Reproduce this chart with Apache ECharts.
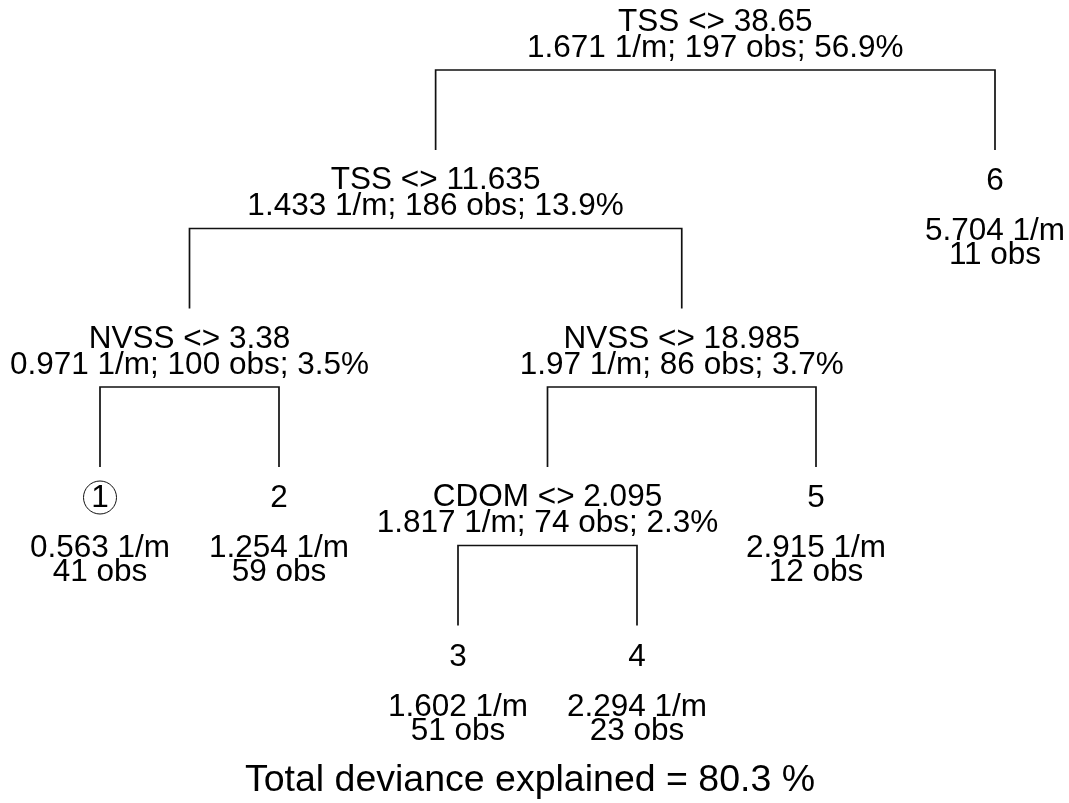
<!DOCTYPE html>
<html>
<head>
<meta charset="utf-8">
<script src="https://cdn.jsdelivr.net/npm/echarts@6/dist/echarts.min.js"></script>
<style>
  html, body { margin: 0; padding: 0; background: #fff; }
  #chart { width: 1069px; height: 803px; }
</style>
</head>
<body>
<div id="chart"></div>
<script>
// Regression tree: split nodes
const splitIds    = ['s0', 's1', 's2', 's3', 's4'];
const splitRules  = ['TSS <> 38.65', 'TSS <> 11.635', 'NVSS <> 3.38', 'NVSS <> 18.985', 'CDOM <> 2.095'];
const splitMeans  = ['1.671', '1.433', '0.971', '1.97', '1.817'];
const splitObs    = [197, 186, 100, 86, 74];
const splitPct    = [56.9, 13.9, 3.5, 3.7, 2.3];
const splitKids   = [['s1', 'l6'], ['s2', 's3'], ['l1', 'l2'], ['s4', 'l5'], ['l3', 'l4']];

// Terminal nodes (leaves), in left-to-right order
const leafIds     = ['l1', 'l2', 'l3', 'l4', 'l5', 'l6'];
const leafNumbers = ['1', '2', '3', '4', '5', '6'];
const leafMeans   = ['0.563', '1.254', '1.602', '2.294', '2.915', '5.704'];
const leafObs     = [41, 59, 51, 23, 12, 11];
const circledLeaf = '1';

const unit = '1/m';
const totalExplained = 80.3;

// ---- layout: leaves get consecutive x ranks, splits sit over the middle of their children
const pos = {};
leafIds.forEach((id, i) => { pos[id] = { x: i + 1 }; });
function place(id, depth) {
  const k = splitIds.indexOf(id);
  if (k < 0) { pos[id].depth = depth; return pos[id].x; }
  const xs = splitKids[k].map(c => place(c, depth + 1));
  pos[id] = { x: (xs[0] + xs[1]) / 2, depth: depth };
  return pos[id].x;
}
place('s0', 0);

const FONT = 'Liberation Sans, Arial, sans-serif';
const FS = 31.5;      // node text size
const DROP = 80;      // px: length of a branch below its split bar
const black = '#000';

const bracketData = splitIds.map((id, k) => {
  const [a, b] = splitKids[k];
  return [pos[a].x, pos[b].x, pos[id].depth, pos[a].depth, pos[b].depth];
});

const splitTextData = splitIds.map((id, k) => [pos[id].x, pos[id].depth, k]);
const leafTextData  = leafIds.map((id, k) => [pos[id].x, pos[id].depth, k]);

function txt(str, x, y, size) {
  return {
    type: 'text',
    style: { text: str, x: x, y: y, fill: black, font: size + 'px ' + FONT, align: 'center', verticalAlign: 'middle' }
  };
}

const option = {
  animation: false,
  backgroundColor: '#fff',
  grid: { left: 100, right: 74, top: 70, height: 634 },
  xAxis: { type: 'value', min: 1, max: 6, show: false },
  yAxis: { type: 'value', min: 0, max: 4, inverse: true, show: false },
  series: [
    {
      type: 'custom',
      data: bracketData,
      renderItem: function (params, api) {
        const pL = api.coord([api.value(0), api.value(2)]);
        const pR = api.coord([api.value(1), api.value(2)]);
        return {
          type: 'polyline',
          shape: { points: [[pL[0], pL[1] + DROP], [pL[0], pL[1]], [pR[0], pR[1]], [pR[0], pR[1] + DROP]] },
          style: { stroke: '#111', lineWidth: 1.7, fill: null }
        };
      }
    },
    {
      type: 'custom',
      data: splitTextData,
      renderItem: function (params, api) {
        const k = api.value(2);
        const p = api.coord([api.value(0), api.value(1)]);
        return {
          type: 'group',
          children: [
            txt(splitRules[k], p[0], p[1] - 48, FS),
            txt(splitMeans[k] + ' ' + unit + '; ' + splitObs[k] + ' obs; ' + splitPct[k] + '%', p[0], p[1] - 22, FS)
          ]
        };
      }
    },
    {
      type: 'custom',
      data: leafTextData,
      renderItem: function (params, api) {
        const k = api.value(2);
        const p = api.coord([api.value(0), api.value(1)]);
        const kids = [
          txt(leafNumbers[k], p[0], p[1] - 47, FS),
          txt(leafMeans[k] + ' ' + unit, p[0], p[1] + 3, FS),
          txt(leafObs[k] + ' obs', p[0], p[1] + 27, FS)
        ];
        if (leafNumbers[k] === circledLeaf) {
          kids.push({
            type: 'circle',
            shape: { cx: p[0], cy: p[1] - 48, r: 16.5 },
            style: { stroke: '#111', lineWidth: 1, fill: null }
          });
        }
        return { type: 'group', children: kids };
      }
    }
  ],
  graphic: [
    {
      type: 'text',
      x: 530, y: 781,
      style: { text: 'Total deviance explained = ' + totalExplained + ' %', fill: black, font: '37.5px ' + FONT, align: 'center', verticalAlign: 'middle' }
    }
  ]
};

echarts.init(document.getElementById('chart'), null, { renderer: 'canvas' }).setOption(option);
</script>
</body>
</html>
